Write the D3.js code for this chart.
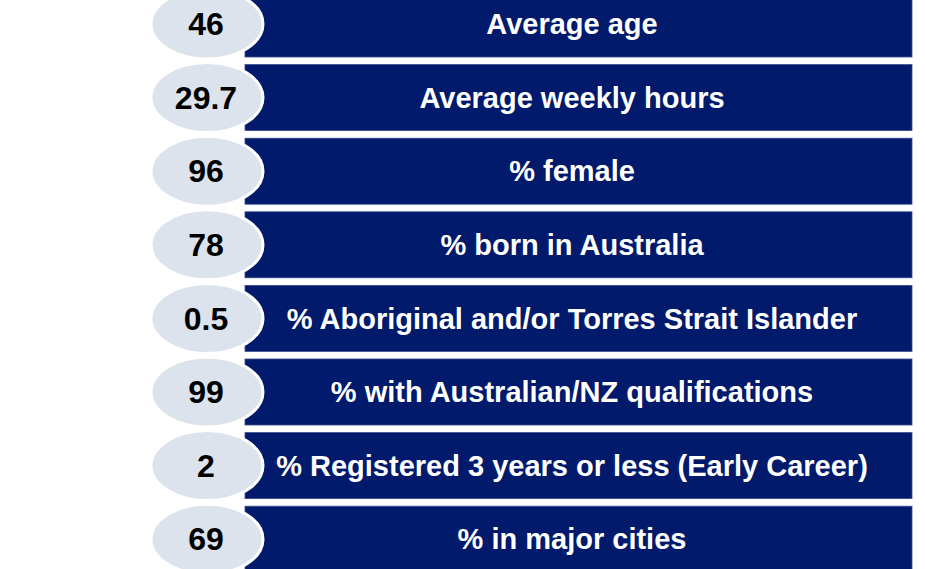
<!DOCTYPE html>
<html>
<head>
<meta charset="utf-8">
<script src="https://cdn.jsdelivr.net/npm/d3@7"></script>
<style>
  body { margin: 0; background: #fff; }
  svg { display: block; }
</style>
</head>
<body>
<svg id="chart" width="925" height="569"></svg>
<script>
// profile figures, top to bottom
var values = ["46", "29.7", "96", "78", "0.5", "99", "2", "69"];
var labels = [
    "Average age",
    "Average weekly hours",
    "% female",
    "% born in Australia",
    "% Aboriginal and/or Torres Strait Islander",
    "% with Australian/NZ qualifications",
    "% Registered 3 years or less (Early Career)",
    "% in major cities"
];

var svg = d3.select("#chart");

var y = d3.scaleBand()
    .domain(labels)
    .range([-12.8, 576])
    .paddingInner(0.1033)
    .paddingOuter(0.0516);

var x = d3.scaleLinear().domain([0, 1]).range([245, 912]);

var rows = svg.selectAll("g.row")
    .data(labels)
    .enter().append("g")
    .attr("class", "row")
    .attr("transform", function(d) { return "translate(0," + y(d) + ")"; });

// navy bar
rows.append("rect")
    .attr("x", x(0))
    .attr("y", 0)
    .attr("width", x(1) - x(0))
    .attr("height", y.bandwidth())
    .attr("fill", "#011a6c")
    .attr("stroke", "#3a4d8c")
    .attr("stroke-width", 0.8);

// label
rows.append("text")
    .attr("x", 572)
    .attr("y", y.bandwidth() / 2)
    .attr("dy", "0.35em")
    .attr("text-anchor", "middle")
    .attr("fill", "#fff")
    .style("font-family", "'Liberation Sans', Arial, sans-serif")
    .style("font-weight", "bold")
    .style("font-size", "29px")
    .text(function(d) { return d; });

// bubble with the figure
rows.append("ellipse")
    .attr("cx", 207)
    .attr("cy", y.bandwidth() / 2)
    .attr("rx", 56)
    .attr("ry", 35)
    .attr("fill", "#dce3ec")
    .attr("stroke", "#fff")
    .attr("stroke-width", 3);

rows.append("text")
    .attr("x", 206)
    .attr("y", y.bandwidth() / 2)
    .attr("dy", "0.35em")
    .attr("text-anchor", "middle")
    .attr("fill", "#000")
    .style("font-family", "'Liberation Sans', Arial, sans-serif")
    .style("font-weight", "bold")
    .style("font-size", "32px")
    .text(function(d, i) { return values[i]; });
</script>
</body>
</html>
